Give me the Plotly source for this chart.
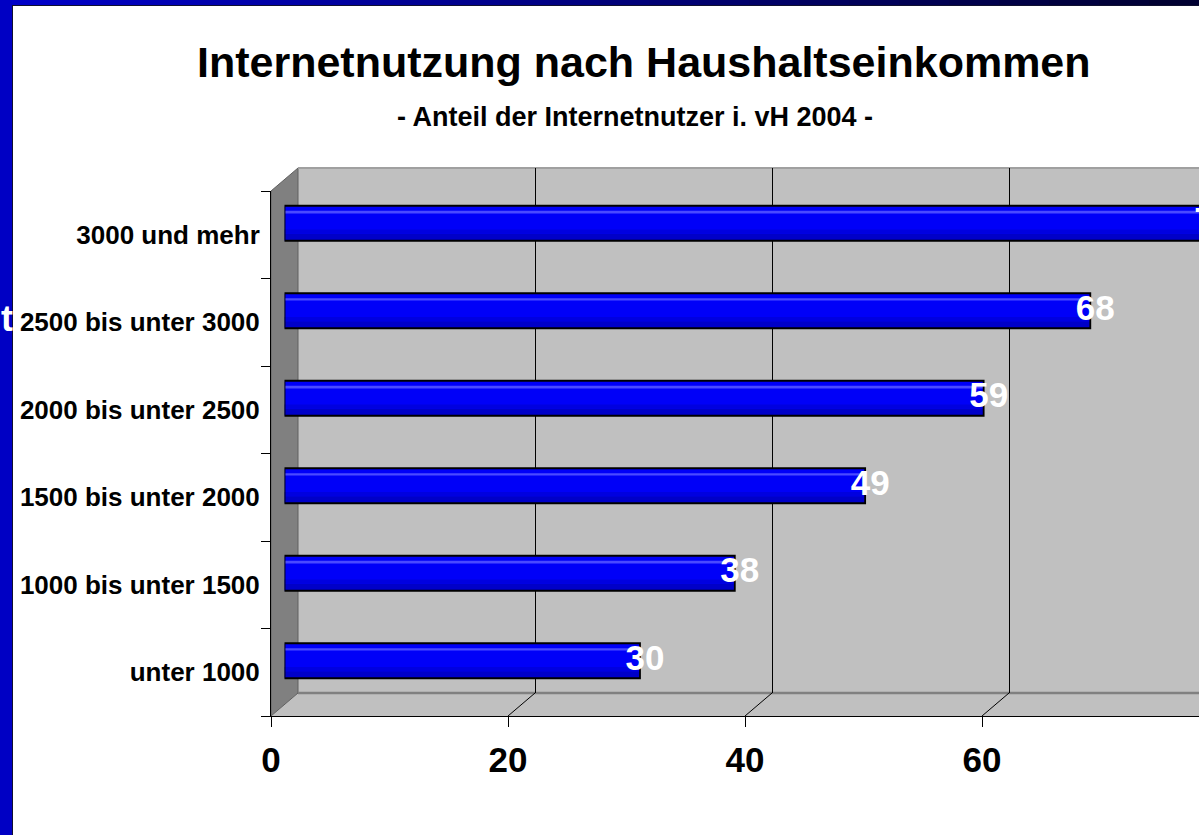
import plotly.graph_objects as go

# ---------------- data ----------------
CATEGORIES = ["unter 1000", "1000 bis unter 1500", "1500 bis unter 2000",
              "2000 bis unter 2500", "2500 bis unter 3000", "3000 und mehr"]
VALUES = [30, 38, 49, 59, 68, 78]
LABELS = [str(v) for v in VALUES]
X_TICKS = [0, 20, 40, 60, 80]
TITLE = "Internetnutzung nach Haushaltseinkommen"
SUBTITLE = "- Anteil der Internetnutzer i. vH 2004 -"

# ---------------- geometry (pixels) ----------------
FIG_W, FIG_H = 1199, 835
L, R, T, B = 271, 0, 168, 119
W = FIG_W - L - R          # plot area width
H = FIG_H - T - B          # plot area height
PX_PER_UNIT = 11.85
DEPTH_X, DEPTH_Y = 27, 23  # 3-D depth offset
BAR_DX, BAR_DY = 13.5, 11.5
LABEL_DX = 5               # value labels sit slightly right of the bar end
FRONT_H = H - DEPTH_Y

def px(x):   # pixel -> paper x
    return (x - L) / W

def py(y):   # pixel -> paper y
    return (FIG_H - B - y) / H

FONT = "Liberation Sans, Arial, sans-serif"
WALL = "#C0C0C0"
SIDE = "#808080"

fig = go.Figure()

# invisible carrier traces so the front and back axes are drawn
fig.add_trace(go.Scatter(x=VALUES, y=CATEGORIES, mode="markers", xaxis="x", yaxis="y",
                         marker=dict(opacity=0), hoverinfo="skip", showlegend=False))
fig.add_trace(go.Scatter(x=VALUES, y=[0.5] * len(VALUES), mode="markers", xaxis="x2", yaxis="y2",
                         marker=dict(opacity=0), hoverinfo="skip", showlegend=False))

# bars (mid depth)
bar_kw = dict(y=CATEGORIES, x=VALUES, orientation="h", xaxis="x3", yaxis="y3",
              hoverinfo="skip", showlegend=False)
fig.add_trace(go.Bar(marker=dict(color="#0000F8", line=dict(width=0)),
                     width=0.4, offset=-0.2, **bar_kw))
fig.add_trace(go.Bar(marker=dict(color="#0000C8", line=dict(width=0)),
                     width=0.08, offset=-0.2, **bar_kw))
fig.add_trace(go.Bar(marker=dict(color="#0000E0", line=dict(width=0)),
                     width=0.05, offset=-0.12, **bar_kw))
fig.add_trace(go.Bar(marker=dict(color="#4A4AFF", line=dict(width=0)),
                     width=0.022, offset=0.12, **bar_kw))
fig.add_trace(go.Bar(marker=dict(color="rgba(0,0,0,0)", line=dict(color="black", width=1.8)),
                     width=0.4, offset=-0.2, **bar_kw))

# value labels (on a label axis shifted a few pixels to the right)
fig.add_trace(go.Scatter(x=VALUES, y=CATEGORIES, text=["<b>%s</b>" % t for t in LABELS],
                         mode="text", textposition="middle center", xaxis="x4", yaxis="y3",
                         textfont=dict(family=FONT, size=35, color="white"),
                         hoverinfo="skip", showlegend=False, cliponaxis=True))

xmax_front = W / PX_PER_UNIT
xmax_back = (W - DEPTH_X) / PX_PER_UNIT
xmax_bar = (W - BAR_DX) / PX_PER_UNIT
xmax_lab = (W - BAR_DX - LABEL_DX) / PX_PER_UNIT

shapes = []
# blue slide frame
N = 24
for i in range(N):
    f = i / (N - 1)
    c = "rgb(0,0,%d)" % int(200 - 150 * f)
    shapes.append(dict(type="rect", xref="paper", yref="paper",
                       x0=px(FIG_W * i / N), x1=px(FIG_W * (i + 1) / N + 1),
                       y0=py(5), y1=py(0), fillcolor=c, line=dict(width=0), layer="below"))
shapes.append(dict(type="rect", xref="paper", yref="paper", x0=px(0), x1=px(12),
                   y0=py(FIG_H), y1=py(0), fillcolor="#0000C4", line=dict(width=0), layer="below"))
shapes.append(dict(type="line", xref="paper", yref="paper", x0=px(12.5), x1=px(12.5),
                   y0=py(FIG_H), y1=py(5), line=dict(color="#101030", width=1), layer="below"))
shapes.append(dict(type="line", xref="paper", yref="paper", x0=px(12.5), x1=px(FIG_W),
                   y0=py(5.5), y1=py(5.5), line=dict(color="#101030", width=1), layer="below"))

# back wall
x_f0, x_b0 = px(L), px(L + DEPTH_X)
y_f0, y_b0 = py(FIG_H - B), py(FIG_H - B - DEPTH_Y)
y_ftop, y_btop = py(T + DEPTH_Y), py(T)
shapes.append(dict(type="rect", xref="paper", yref="paper", x0=x_b0, x1=1.0,
                   y0=y_b0, y1=y_btop, fillcolor=WALL, line=dict(width=0), layer="below"))
# floor
shapes.append(dict(type="path", xref="paper", yref="paper",
                   path=f"M {x_f0},{y_f0} L {x_b0},{y_b0} L 1,{y_b0} L 1,{y_f0} Z",
                   fillcolor=WALL, line=dict(width=0), layer="below"))
# left side wall
shapes.append(dict(type="path", xref="paper", yref="paper",
                   path=f"M {x_f0},{y_ftop} L {x_b0},{y_btop} L {x_b0},{y_b0} L {x_f0},{y_f0} Z",
                   fillcolor=SIDE, line=dict(color="#606060", width=1), layer="below"))
# wall edges
shapes.append(dict(type="line", xref="paper", yref="paper", x0=x_b0, x1=1, y0=y_btop, y1=y_btop,
                   line=dict(color="#A0A0A0", width=2), layer="below"))
shapes.append(dict(type="line", xref="paper", yref="paper", x0=x_b0, x1=1, y0=y_b0, y1=y_b0,
                   line=dict(color="#808080", width=2.5), layer="below"))
# floor diagonals for grid lines
for v in X_TICKS[1:]:
    xb = px(L + DEPTH_X + v * PX_PER_UNIT)
    xf = px(L + v * PX_PER_UNIT)
    if xb <= 1:
        shapes.append(dict(type="line", xref="paper", yref="paper", x0=xb, y0=y_b0, x1=xf, y1=y_f0,
                           line=dict(color="black", width=1), layer="below"))

annotations = [
    dict(text=TITLE, xref="paper", yref="paper", x=px(643.5), y=py(62), showarrow=False,
         xanchor="center", yanchor="middle", font=dict(family=FONT, size=43, color="black")),
    dict(text=SUBTITLE, xref="paper", yref="paper", x=px(635), y=py(117), showarrow=False,
         xanchor="center", yanchor="middle", font=dict(family=FONT, size=27, color="black")),
    dict(text="t", xref="paper", yref="paper", x=px(15), y=py(318), showarrow=False,
         xanchor="right", yanchor="middle", font=dict(family=FONT, size=36, color="white")),
]
for a in annotations:
    a["text"] = "<b>" + a["text"] + "</b>"

fig.update_layout(
    width=FIG_W, height=FIG_H,
    margin=dict(l=L, r=R, t=T, b=B, pad=0),
    paper_bgcolor="white", plot_bgcolor="rgba(0,0,0,0)",
    barmode="overlay", showlegend=False,
    font=dict(family=FONT, color="black"),
    shapes=shapes, annotations=annotations,
    xaxis=dict(domain=[0, 1], anchor="y", range=[0, xmax_front], tickmode="array",
               tickvals=X_TICKS, ticktext=["<b>%d</b>" % v for v in X_TICKS],
               ticks="outside", ticklen=10, tickcolor="black", tickwidth=1,
               showline=True, linecolor="black", linewidth=1, showgrid=False, zeroline=False,
               tickfont=dict(family=FONT, size=35, color="black"), ticklabelstandoff=3),
    yaxis=dict(domain=[0, FRONT_H / H], anchor="x", type="category",
               categoryorder="array", categoryarray=CATEGORIES, range=[-0.5, 5.5],
               tickmode="array", tickvals=CATEGORIES,
               ticktext=["<b>%s</b>" % c for c in CATEGORIES],
               tickson="boundaries", ticks="outside", ticklen=9, tickcolor="black",
               showline=True, linecolor="black", linewidth=1, showgrid=False, zeroline=False,
               tickfont=dict(family=FONT, size=26, color="black"), ticklabelstandoff=5),
    xaxis2=dict(domain=[DEPTH_X / W, 1], anchor="y2", range=[0, xmax_back], tickmode="array",
                tickvals=X_TICKS[1:], showticklabels=False, ticks="", showgrid=True,
                gridcolor="black", gridwidth=1, zeroline=False, showline=False),
    yaxis2=dict(domain=[DEPTH_Y / H, 1], anchor="x2", range=[0, 1], showticklabels=False,
                ticks="", showgrid=False, zeroline=False, showline=False),
    xaxis3=dict(domain=[BAR_DX / W, 1], anchor="y3", range=[0, xmax_bar], visible=False,
                showgrid=False, zeroline=False),
    xaxis4=dict(domain=[(BAR_DX + LABEL_DX) / W, 1], anchor="y3", range=[0, xmax_lab],
                visible=False, showgrid=False, zeroline=False),
    yaxis3=dict(domain=[BAR_DY / H, (FRONT_H + BAR_DY) / H], anchor="x3", type="category",
                categoryorder="array", categoryarray=CATEGORIES, range=[-0.5, 5.5],
                visible=False, showgrid=False, zeroline=False),
)

fig.write_html("out.html", config={"displayModeBar": False},
               post_script="document.body.style.margin='0px';")
